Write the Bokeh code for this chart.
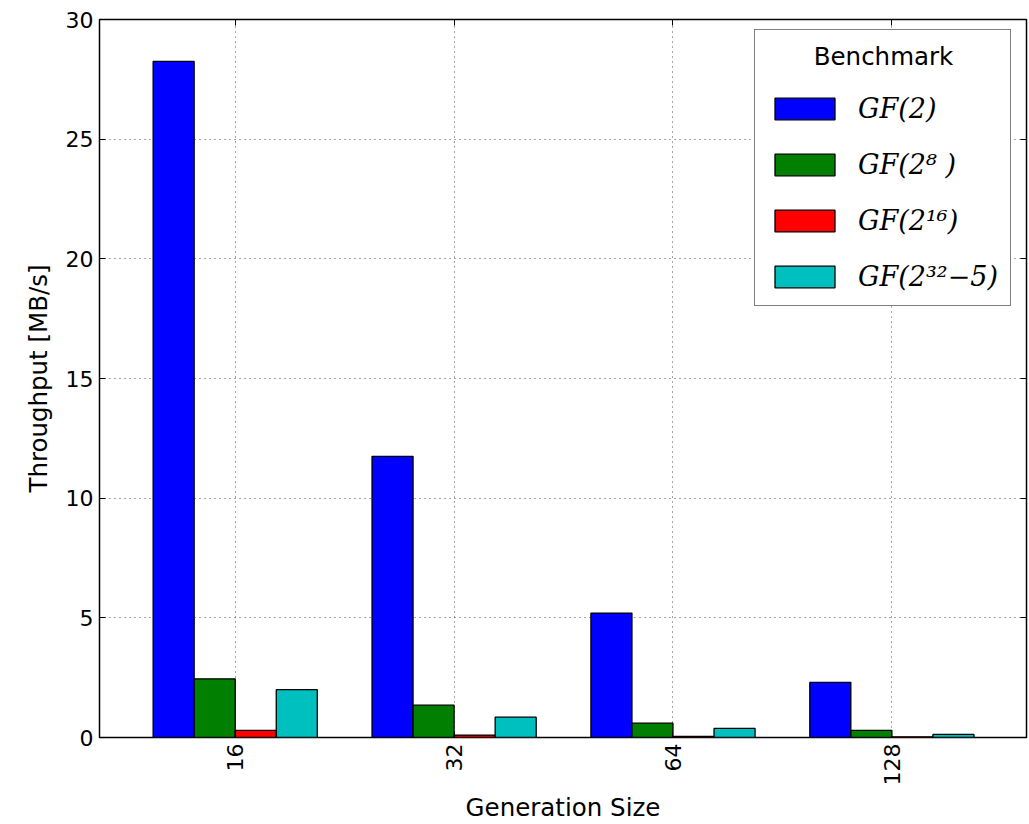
from bokeh.plotting import figure
from bokeh.models import (ColumnDataSource, FixedTicker, LinearAxis, Legend, LegendItem,
                          Range1d)
from bokeh.transform import dodge
from bokeh.embed import file_html
from bokeh.resources import INLINE

# ---- data ----
categories = ["16", "32", "64", "128"]
gf2 = [28.25, 11.75, 5.2, 2.3]
gf2_8 = [2.45, 1.35, 0.6, 0.3]
gf2_16 = [0.3, 0.1, 0.05, 0.03]
gf2_32 = [2.0, 0.85, 0.38, 0.13]
series_labels = ["GF(2)", "GF(2⁸ )", "GF(2¹⁶)", "GF(2³²−5)"]
series_colors = ["#0000ff", "#007f00", "#ff0000", "#00bfbf"]
y_ticks = [0, 5, 10, 15, 20, 25, 30]
legend_title = "Benchmark"

pos = list(range(len(categories)))
src = ColumnDataSource(dict(x=pos, gf2=gf2, gf2_8=gf2_8, gf2_16=gf2_16, gf2_32=gf2_32))

W = 0.1875
FONT = "DejaVu Sans"
TICK_FS = "22px"
LAB_FS = "24.5px"

p = figure(output_backend="svg", toolbar_location=None,
           frame_width=927, frame_height=718,
           x_range=Range1d(-0.62, 3.615), y_range=Range1d(0, 30),
           min_border_left=99, min_border_top=19, min_border_right=2, min_border_bottom=60)
p.background_fill_color = "white"
p.border_fill_color = "white"
p.outline_line_color = "black"
p.outline_line_width = 1.5

renderers = []
for col, off, color in zip(["gf2", "gf2_8", "gf2_16", "gf2_32"],
                           [-1.5 * W, -0.5 * W, 0.5 * W, 1.5 * W], series_colors):
    r = p.vbar(x=dodge("x", off), top=col, width=W, bottom=0, source=src,
               fill_color=color, line_color="black", line_width=1.3)
    renderers.append(r)

# axes
xa = p.xaxis[0]
xa.ticker = FixedTicker(ticks=pos)
xa.major_label_overrides = {i: c for i, c in enumerate(categories)}
xa.major_label_orientation = 1.5708
xa.axis_label = "Generation Size"
ya = p.yaxis[0]
ya.ticker = FixedTicker(ticks=y_ticks)
ya.axis_label = "Throughput [MB/s]"
for ax in (xa, ya):
    ax.major_label_text_font = FONT
    ax.major_label_text_font_size = TICK_FS
    ax.major_label_text_color = "black"
    ax.axis_label_text_font = FONT
    ax.axis_label_text_font_size = LAB_FS
    ax.axis_label_text_font_style = "normal"
    ax.axis_label_text_color = "black"
    ax.axis_line_color = None
    ax.major_tick_in = 6
    ax.major_tick_out = 0
    ax.major_tick_line_color = "black"
    ax.minor_tick_line_color = None
ya.major_label_standoff = 6
ya.axis_label_standoff = 10
xa.major_label_standoff = 6
xa.axis_label_standoff = 5

# mirrored ticks (right / top), labels not drawn
ra = LinearAxis(ticker=FixedTicker(ticks=y_ticks),
                major_label_text_font_size="1px", major_label_text_color=None,
                axis_line_color=None, major_tick_in=6, major_tick_out=0,
                major_tick_line_color="black",
                minor_tick_line_color=None, major_label_standoff=0)
p.add_layout(ra, "right")
ta = LinearAxis(ticker=FixedTicker(ticks=pos),
                major_label_text_font_size="1px", major_label_text_color=None,
                axis_line_color=None, major_tick_in=6, major_tick_out=0,
                major_tick_line_color="black",
                minor_tick_line_color=None, major_label_standoff=0)
p.add_layout(ta, "above")

# grid
for g in (p.xgrid[0], p.ygrid[0]):
    g.grid_line_color = "black"
    g.grid_line_alpha = 0.7
    g.grid_line_dash = "1 4"
    g.grid_line_width = 1
p.xgrid[0].ticker = FixedTicker(ticks=pos)
p.ygrid[0].ticker = FixedTicker(ticks=y_ticks)

legend = Legend(items=[LegendItem(label=l, renderers=[r]) for l, r in zip(series_labels, renderers)],
                location=(655, 431), title="\u00a0" * 6 + legend_title,
                title_text_font=FONT, title_text_font_size=LAB_FS, title_text_font_style="normal",
                title_text_color="black", title_standoff=20,
                label_text_font="DejaVu Serif", label_text_font_style="italic",
                label_text_font_size="27px", label_text_color="black",
                glyph_width=75, glyph_height=27, label_height=34, label_standoff=16,
                spacing=22, padding=12, margin=0,
                border_line_color="black", border_line_width=1.5,
                background_fill_color="white", background_fill_alpha=1)
p.add_layout(legend, "center")

open("out.html", "w").write(file_html(p, INLINE))
